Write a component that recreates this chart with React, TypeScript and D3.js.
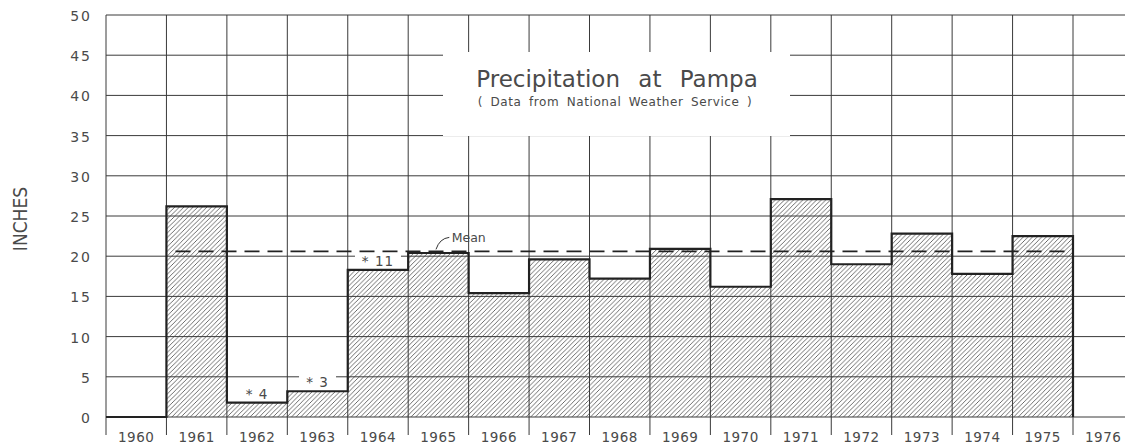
import * as d3 from 'd3';

// annual precipitation at Pampa, inches (1960 shown as empty)
const years = [1960, 1961, 1962, 1963, 1964, 1965, 1966, 1967, 1968, 1969, 1970, 1971, 1972, 1973, 1974, 1975];
const inches = [0, 26.2, 1.8, 3.2, 18.3, 20.4, 15.4, 19.6, 17.2, 20.9, 16.2, 27.1, 19.0, 22.8, 17.8, 22.5];
const meanValue = 20.6;
const yTicks = [0, 5, 10, 15, 20, 25, 30, 35, 40, 45, 50];
const yearLabels = ['1960', '1961', '1962', '1963', '1964', '1965', '1966', '1967', '1968', '1969', '1970', '1971', '1972', '1973', '1974', '1975', '1976'];
const notes = [
  { year: 1962, label: '* 4' },
  { year: 1963, label: '* 3' },
  { year: 1964, label: '* 11' },
];

const W = 1125;
const H = 444;
const ink = '#3a3a3a';
const textInk = '#4a4a4a';
const font = '"DejaVu Sans", sans-serif';

type Pt = { year: number; value: number };

const App = () => {
  const x = d3.scaleLinear().domain([1960, 1976]).range([106, 1073]);
  const y = d3.scaleLinear().domain([0, 50]).range([417, 15]);

  const pts: Pt[] = years.map((yr, i) => ({ year: yr, value: inches[i] }));
  const stepPts: Pt[] = [...pts, { year: 1976, value: 0 }];
  const areaPts: Pt[] = [...pts.slice(1), { year: 1976, value: inches[inches.length - 1] }];

  const outline = d3.line<Pt>()
    .x(d => x(d.year))
    .y(d => y(d.value))
    .curve(d3.curveStepAfter)(stepPts) || '';

  const area = d3.area<Pt>()
    .x(d => x(d.year))
    .y0(y(0))
    .y1(d => y(d.value))
    .curve(d3.curveStepAfter)(areaPts) || '';

  const gridYears = d3.range(1960, 1977);

  return (
    <svg width={W} height={H} style={{ position: 'absolute', left: 0, top: 0, background: '#fff' }}>
      <defs>
        <pattern id="hatch" patternUnits="userSpaceOnUse" width="4.6" height="4.6">
          <path d="M-1,1 l2,-2 M0,4.6 l4.6,-4.6 M3.6,5.6 l2,-2" stroke="#555" strokeWidth="0.85" />
        </pattern>
      </defs>

      {/* hatched bars */}
      <path d={area} fill="url(#hatch)" />

      {/* horizontal grid */}
      {yTicks.map(v => (
        <line key={'h' + v} x1={x(1960)} x2={W} y1={y(v)} y2={y(v)} stroke={ink} strokeWidth={1} />
      ))}
      {/* vertical grid with ticks below the axis */}
      {gridYears.map(yr => (
        <line key={'v' + yr} x1={x(yr)} x2={x(yr)} y1={y(50)} y2={y(0) + 18} stroke={ink} strokeWidth={1} />
      ))}

      {/* step outline */}
      <path d={outline} fill="none" stroke="#222" strokeWidth={2.2} />

      {/* mean line */}
      <line x1={x(1961.15)} x2={x(1975.9)} y1={y(meanValue)} y2={y(meanValue)}
        stroke="#222" strokeWidth={1.8} strokeDasharray="15 8" />

      {/* title box */}
      <rect x={443} y={52} width={347} height={84} fill="#fff" />
      <text x={617} y={87} textAnchor="middle" fontFamily={font} fontSize={23} fill={textInk}
        wordSpacing={11}>Precipitation at Pampa</text>
      <text x={615} y={106} textAnchor="middle" fontFamily={font} fontSize={12} fill={textInk}
        letterSpacing={0.6} wordSpacing={3}>( Data from National Weather Service )</text>

      {/* footnote markers */}
      {notes.map(n => {
        const i = years.indexOf(n.year);
        const cx = x(n.year + 0.5);
        const cy = y(inches[i]) - 9;
        const w = n.label.length * 9 + 10;
        return (
          <g key={n.label}>
            <rect x={cx - w / 2} y={cy - 8} width={w} height={15} fill="#fff" />
            <text x={cx} y={cy + 5} textAnchor="middle" fontFamily={font} fontSize={13.5} fill={textInk}
              letterSpacing={1}>{n.label}</text>
          </g>
        );
      })}

      {/* mean label */}
      <path d={`M${x(1965.46)},${y(meanValue) - 2} Q${x(1965.52)},${y(meanValue) - 13} ${x(1965.68)},${y(meanValue) - 14}`}
        fill="none" stroke="#333" strokeWidth={1} />
      <text x={x(1965.72)} y={y(meanValue) - 9.5} fontFamily={font} fontSize={12.5} fill={textInk}>Mean</text>

      {/* y tick labels */}
      {yTicks.map(v => (
        <text key={'yl' + v} x={92} y={y(v) + 6} textAnchor="end" fontFamily={font} fontSize={14}
          fill={textInk} letterSpacing={2}>{v}</text>
      ))}

      {/* year labels */}
      {yearLabels.map((lab, i) => (
        <text key={lab} x={x(1960 + i + 0.5)} y={442} textAnchor="middle" fontFamily={font} fontSize={13.5}
          fill={textInk} letterSpacing={0.5}>{lab}</text>
      ))}

      <text transform={`translate(27,219) rotate(-90)`} textAnchor="middle"
        fontFamily='"DejaVu Sans Condensed", "DejaVu Sans", sans-serif' fontSize={19} fill={textInk}>INCHES</text>
    </svg>
  );
};

export default App;
